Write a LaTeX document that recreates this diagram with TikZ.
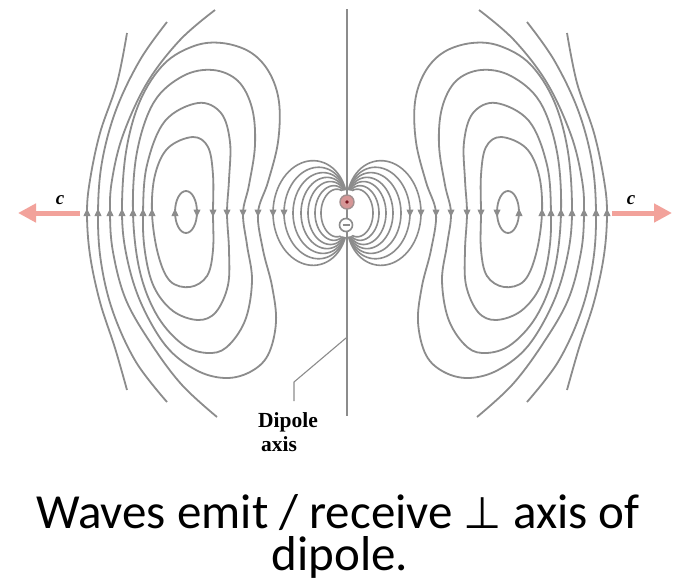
\documentclass[tikz,border=0pt]{standalone}
\usepackage{fontspec}
\setmainfont{Liberation Serif}
\newfontfamily\capfont{Carlito}
\newfontfamily\perpfont{DejaVu Sans}
\usetikzlibrary{arrows.meta}

\definecolor{fieldgray}{RGB}{140,140,140}
\definecolor{wavepink}{RGB}{242,162,155}
\definecolor{chargefill}{RGB}{214,150,150}
\definecolor{chargedot}{RGB}{120,20,30}

% small field-direction arrowheads on the horizontal mid line
\newcommand\fup[1]{\fill[fieldgray] (#1,208.5) -- (#1-3.6,216) -- (#1+3.6,216) -- cycle;}
\newcommand\fdown[1]{\fill[fieldgray] (#1,217) -- (#1-3.6,209.5) -- (#1+3.6,209.5) -- cycle;}

% one half of the field pattern (left of the dipole axis)
\newcommand\fieldhalf{%
  % near-field loops from + to - charge
  \foreach \w in {74,63,54,46,39,32,26}{%
    \draw[near] plot[domain=0:180,samples=70,smooth]
      ({347-\w*sin(\x)*sin(\x)},{213-(0.6*\w*sin(2*\x)+11*cos(\x))});
  }
  \fdown{273}\fdown{284}
  % detached closed loops
  \draw[field] (186,212) ellipse (11 and 21);
  \draw[field] plot[smooth cycle,tension=0.6] coordinates {
    (152,213) (155,175) (168,148) (193,137) (208,147) (213,175) (213,213)
    (213,250) (207,276) (190,287) (170,281) (158,254)};
  \draw[field] plot[smooth cycle,tension=0.6] coordinates {
    (143,213) (147,165) (165,121) (198,103) (221,113) (230,142) (229,180)
    (227,213) (229,250) (228,285) (216,312) (198,320) (173,311) (154,287)
    (145,252)};
  \draw[field] plot[smooth cycle,tension=0.6] coordinates {
    (133,213) (137,152) (154,102) (183,76) (213,70) (238,81) (252,108)
    (255,145) (249,185) (243,213) (247,245) (252,280) (246,318) (230,344)
    (212,353) (185,346) (158,317) (140,272)};
  \draw[field] plot[smooth cycle,tension=0.6] coordinates {
    (122,213) (126,152) (140,101) (164,64) (194,46) (222,43) (250,52)
    (269,72) (279,102) (278,142) (268,182) (258,213) (263,250) (272,286)
    (276,322) (268,355) (250,372) (225,378) (196,370) (166,346) (141,303)
    (127,258)};
  % open field lines
  \draw[field] plot[smooth,tension=0.6] coordinates {
    (215,10) (180,40) (147,83) (123,135) (112,180) (110,213) (113,252)
    (126,300) (152,345) (182,385) (217,417)};
  \draw[field] plot[smooth,tension=0.6] coordinates {
    (167,22) (140,60) (116,110) (102,162) (98,213) (101,262) (113,312)
    (136,362) (167,402)};
  \draw[field] plot[smooth,tension=0.6] coordinates {
    (127,33) (117,83) (100,133) (90,180) (87,213) (90,255) (100,302)
    (115,348) (127,390)};
  % arrowheads
  \fup{87}\fup{98}\fup{110}\fup{122}\fup{133}\fup{143}\fup{152}\fup{175}
  \fdown{197}\fdown{213}\fdown{227}\fdown{243}\fdown{258}
}

\begin{document}
\begin{tikzpicture}[x=1pt,y=-1pt,
  field/.style={draw=fieldgray,line width=1.8pt},
  near/.style={draw=fieldgray,line width=1.6pt},
  leader/.style={draw=fieldgray,line width=1.1pt},
  wave/.style={draw=wavepink,line width=5pt,-{Triangle[width=18pt,length=18pt]}},
  clabel/.style={font=\fontsize{19}{19}\selectfont\bfseries\itshape},
  axlabel/.style={anchor=base west,inner sep=0pt,font=\fontsize{21.5}{23}\selectfont\bfseries},
  caption/.style={anchor=base,inner sep=0pt,font=\capfont\fontsize{49}{50}\selectfont}]

\fill[white] (0,0) rectangle (677,582);
\path[use as bounding box] (0,0) rectangle (677,582);

% left and mirrored right halves of the field
\fieldhalf
\begin{scope}[xshift=694pt,xscale=-1]
  \fieldhalf
\end{scope}

% clear space round the charges
\fill[white] (347,202) circle (12);
\fill[white] (346,225) circle (12);

% dipole axis
\coordinate (axtop) at (347,9);
\coordinate (axbot) at (347,416);
\draw[field] (axtop) -- (axbot);

% charges
\node[circle,draw=fieldgray!70!chargefill,fill=chargefill,line width=1.4pt,
      minimum size=14pt,inner sep=0pt] (plus) at (347,202) {};
\fill[chargedot] (plus.center) circle (1.8);
\node[circle,draw=fieldgray,fill=white,line width=1.6pt,
      minimum size=13pt,inner sep=0pt] (minus) at (346,225) {};
\draw[fieldgray,line width=1.4pt] ([xshift=-3.5pt]minus.center) -- ([xshift=3.5pt]minus.center);

% outgoing waves
\coordinate (wlA) at (80,213);
\coordinate (wlB) at (18,213);
\coordinate (wrA) at (612,213);
\coordinate (wrB) at (672,213);
\draw[wave] (wlA) -- (wlB);
\draw[wave] (wrA) -- (wrB);
\node[clabel] (cl) at (60,200) {c};
\node[clabel] (cr) at (631,200) {c};

% axis label with leader
\node[axlabel] (dip) at (258,427) {Dipole};
\node[axlabel] (axs) at (261,451) {axis};
\coordinate (lead) at (294,401);
\coordinate (axpt) at (346,338);
\draw[leader] (lead) -- ++(0,-19) -- (axpt);

% caption
\node[caption,text depth=0pt] (cap1) at (338,528)
  {Waves emit / receive {\perpfont\fontsize{44}{44}\selectfont ⊥} axis of};
\node[caption,text height=25pt] (cap2) at (340,570) {dipole.};
\end{tikzpicture}
\end{document}
